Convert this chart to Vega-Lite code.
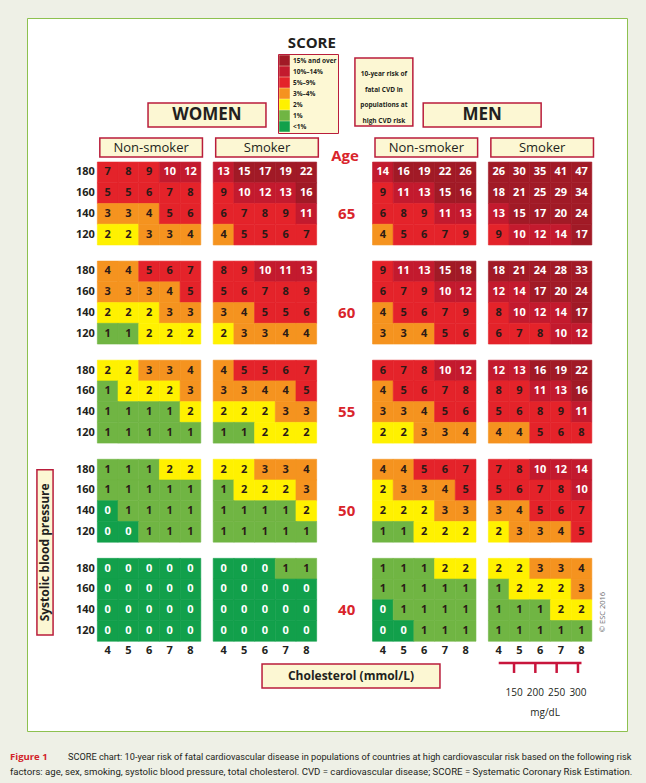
{
"$schema": "https://vega.github.io/schema/vega-lite/v6.json",
"width": 600, "height": 713,
"autosize": {"type": "none"},
"padding": {"left": 27, "top": 18, "right": 19, "bottom": 52},
"background": "#eef0e6",
"config": {"view": {"fill": "#ffffff", "stroke": "#8dc14f", "strokeWidth": 1}, "text": {"font": "Open Sans"}, "axis": {"disable": true}},
"data": {"values": [
{"sex":"Women","smoker":"Non-smoker","age":65,"sbp":180,"chol":4,"risk":7},{"sex":"Women","smoker":"Non-smoker","age":65,"sbp":180,"chol":5,"risk":8},{"sex":"Women","smoker":"Non-smoker","age":65,"sbp":180,"chol":6,"risk":9},{"sex":"Women","smoker":"Non-smoker","age":65,"sbp":180,"chol":7,"risk":10},{"sex":"Women","smoker":"Non-smoker","age":65,"sbp":180,"chol":8,"risk":12},
{"sex":"Women","smoker":"Non-smoker","age":65,"sbp":160,"chol":4,"risk":5},{"sex":"Women","smoker":"Non-smoker","age":65,"sbp":160,"chol":5,"risk":5},{"sex":"Women","smoker":"Non-smoker","age":65,"sbp":160,"chol":6,"risk":6},{"sex":"Women","smoker":"Non-smoker","age":65,"sbp":160,"chol":7,"risk":7},{"sex":"Women","smoker":"Non-smoker","age":65,"sbp":160,"chol":8,"risk":8},
{"sex":"Women","smoker":"Non-smoker","age":65,"sbp":140,"chol":4,"risk":3},{"sex":"Women","smoker":"Non-smoker","age":65,"sbp":140,"chol":5,"risk":3},{"sex":"Women","smoker":"Non-smoker","age":65,"sbp":140,"chol":6,"risk":4},{"sex":"Women","smoker":"Non-smoker","age":65,"sbp":140,"chol":7,"risk":5},{"sex":"Women","smoker":"Non-smoker","age":65,"sbp":140,"chol":8,"risk":6},
{"sex":"Women","smoker":"Non-smoker","age":65,"sbp":120,"chol":4,"risk":2},{"sex":"Women","smoker":"Non-smoker","age":65,"sbp":120,"chol":5,"risk":2},{"sex":"Women","smoker":"Non-smoker","age":65,"sbp":120,"chol":6,"risk":3},{"sex":"Women","smoker":"Non-smoker","age":65,"sbp":120,"chol":7,"risk":3},{"sex":"Women","smoker":"Non-smoker","age":65,"sbp":120,"chol":8,"risk":4},
{"sex":"Women","smoker":"Non-smoker","age":60,"sbp":180,"chol":4,"risk":4},{"sex":"Women","smoker":"Non-smoker","age":60,"sbp":180,"chol":5,"risk":4},{"sex":"Women","smoker":"Non-smoker","age":60,"sbp":180,"chol":6,"risk":5},{"sex":"Women","smoker":"Non-smoker","age":60,"sbp":180,"chol":7,"risk":6},{"sex":"Women","smoker":"Non-smoker","age":60,"sbp":180,"chol":8,"risk":7},
{"sex":"Women","smoker":"Non-smoker","age":60,"sbp":160,"chol":4,"risk":3},{"sex":"Women","smoker":"Non-smoker","age":60,"sbp":160,"chol":5,"risk":3},{"sex":"Women","smoker":"Non-smoker","age":60,"sbp":160,"chol":6,"risk":3},{"sex":"Women","smoker":"Non-smoker","age":60,"sbp":160,"chol":7,"risk":4},{"sex":"Women","smoker":"Non-smoker","age":60,"sbp":160,"chol":8,"risk":5},
{"sex":"Women","smoker":"Non-smoker","age":60,"sbp":140,"chol":4,"risk":2},{"sex":"Women","smoker":"Non-smoker","age":60,"sbp":140,"chol":5,"risk":2},{"sex":"Women","smoker":"Non-smoker","age":60,"sbp":140,"chol":6,"risk":2},{"sex":"Women","smoker":"Non-smoker","age":60,"sbp":140,"chol":7,"risk":3},{"sex":"Women","smoker":"Non-smoker","age":60,"sbp":140,"chol":8,"risk":3},
{"sex":"Women","smoker":"Non-smoker","age":60,"sbp":120,"chol":4,"risk":1},{"sex":"Women","smoker":"Non-smoker","age":60,"sbp":120,"chol":5,"risk":1},{"sex":"Women","smoker":"Non-smoker","age":60,"sbp":120,"chol":6,"risk":2},{"sex":"Women","smoker":"Non-smoker","age":60,"sbp":120,"chol":7,"risk":2},{"sex":"Women","smoker":"Non-smoker","age":60,"sbp":120,"chol":8,"risk":2},
{"sex":"Women","smoker":"Non-smoker","age":55,"sbp":180,"chol":4,"risk":2},{"sex":"Women","smoker":"Non-smoker","age":55,"sbp":180,"chol":5,"risk":2},{"sex":"Women","smoker":"Non-smoker","age":55,"sbp":180,"chol":6,"risk":3},{"sex":"Women","smoker":"Non-smoker","age":55,"sbp":180,"chol":7,"risk":3},{"sex":"Women","smoker":"Non-smoker","age":55,"sbp":180,"chol":8,"risk":4},
{"sex":"Women","smoker":"Non-smoker","age":55,"sbp":160,"chol":4,"risk":1},{"sex":"Women","smoker":"Non-smoker","age":55,"sbp":160,"chol":5,"risk":2},{"sex":"Women","smoker":"Non-smoker","age":55,"sbp":160,"chol":6,"risk":2},{"sex":"Women","smoker":"Non-smoker","age":55,"sbp":160,"chol":7,"risk":2},{"sex":"Women","smoker":"Non-smoker","age":55,"sbp":160,"chol":8,"risk":3},
{"sex":"Women","smoker":"Non-smoker","age":55,"sbp":140,"chol":4,"risk":1},{"sex":"Women","smoker":"Non-smoker","age":55,"sbp":140,"chol":5,"risk":1},{"sex":"Women","smoker":"Non-smoker","age":55,"sbp":140,"chol":6,"risk":1},{"sex":"Women","smoker":"Non-smoker","age":55,"sbp":140,"chol":7,"risk":1},{"sex":"Women","smoker":"Non-smoker","age":55,"sbp":140,"chol":8,"risk":2},
{"sex":"Women","smoker":"Non-smoker","age":55,"sbp":120,"chol":4,"risk":1},{"sex":"Women","smoker":"Non-smoker","age":55,"sbp":120,"chol":5,"risk":1},{"sex":"Women","smoker":"Non-smoker","age":55,"sbp":120,"chol":6,"risk":1},{"sex":"Women","smoker":"Non-smoker","age":55,"sbp":120,"chol":7,"risk":1},{"sex":"Women","smoker":"Non-smoker","age":55,"sbp":120,"chol":8,"risk":1},
{"sex":"Women","smoker":"Non-smoker","age":50,"sbp":180,"chol":4,"risk":1},{"sex":"Women","smoker":"Non-smoker","age":50,"sbp":180,"chol":5,"risk":1},{"sex":"Women","smoker":"Non-smoker","age":50,"sbp":180,"chol":6,"risk":1},{"sex":"Women","smoker":"Non-smoker","age":50,"sbp":180,"chol":7,"risk":2},{"sex":"Women","smoker":"Non-smoker","age":50,"sbp":180,"chol":8,"risk":2},
{"sex":"Women","smoker":"Non-smoker","age":50,"sbp":160,"chol":4,"risk":1},{"sex":"Women","smoker":"Non-smoker","age":50,"sbp":160,"chol":5,"risk":1},{"sex":"Women","smoker":"Non-smoker","age":50,"sbp":160,"chol":6,"risk":1},{"sex":"Women","smoker":"Non-smoker","age":50,"sbp":160,"chol":7,"risk":1},{"sex":"Women","smoker":"Non-smoker","age":50,"sbp":160,"chol":8,"risk":1},
{"sex":"Women","smoker":"Non-smoker","age":50,"sbp":140,"chol":4,"risk":0},{"sex":"Women","smoker":"Non-smoker","age":50,"sbp":140,"chol":5,"risk":1},{"sex":"Women","smoker":"Non-smoker","age":50,"sbp":140,"chol":6,"risk":1},{"sex":"Women","smoker":"Non-smoker","age":50,"sbp":140,"chol":7,"risk":1},{"sex":"Women","smoker":"Non-smoker","age":50,"sbp":140,"chol":8,"risk":1},
{"sex":"Women","smoker":"Non-smoker","age":50,"sbp":120,"chol":4,"risk":0},{"sex":"Women","smoker":"Non-smoker","age":50,"sbp":120,"chol":5,"risk":0},{"sex":"Women","smoker":"Non-smoker","age":50,"sbp":120,"chol":6,"risk":1},{"sex":"Women","smoker":"Non-smoker","age":50,"sbp":120,"chol":7,"risk":1},{"sex":"Women","smoker":"Non-smoker","age":50,"sbp":120,"chol":8,"risk":1},
{"sex":"Women","smoker":"Non-smoker","age":40,"sbp":180,"chol":4,"risk":0},{"sex":"Women","smoker":"Non-smoker","age":40,"sbp":180,"chol":5,"risk":0},{"sex":"Women","smoker":"Non-smoker","age":40,"sbp":180,"chol":6,"risk":0},{"sex":"Women","smoker":"Non-smoker","age":40,"sbp":180,"chol":7,"risk":0},{"sex":"Women","smoker":"Non-smoker","age":40,"sbp":180,"chol":8,"risk":0},
{"sex":"Women","smoker":"Non-smoker","age":40,"sbp":160,"chol":4,"risk":0},{"sex":"Women","smoker":"Non-smoker","age":40,"sbp":160,"chol":5,"risk":0},{"sex":"Women","smoker":"Non-smoker","age":40,"sbp":160,"chol":6,"risk":0},{"sex":"Women","smoker":"Non-smoker","age":40,"sbp":160,"chol":7,"risk":0},{"sex":"Women","smoker":"Non-smoker","age":40,"sbp":160,"chol":8,"risk":0},
{"sex":"Women","smoker":"Non-smoker","age":40,"sbp":140,"chol":4,"risk":0},{"sex":"Women","smoker":"Non-smoker","age":40,"sbp":140,"chol":5,"risk":0},{"sex":"Women","smoker":"Non-smoker","age":40,"sbp":140,"chol":6,"risk":0},{"sex":"Women","smoker":"Non-smoker","age":40,"sbp":140,"chol":7,"risk":0},{"sex":"Women","smoker":"Non-smoker","age":40,"sbp":140,"chol":8,"risk":0},
{"sex":"Women","smoker":"Non-smoker","age":40,"sbp":120,"chol":4,"risk":0},{"sex":"Women","smoker":"Non-smoker","age":40,"sbp":120,"chol":5,"risk":0},{"sex":"Women","smoker":"Non-smoker","age":40,"sbp":120,"chol":6,"risk":0},{"sex":"Women","smoker":"Non-smoker","age":40,"sbp":120,"chol":7,"risk":0},{"sex":"Women","smoker":"Non-smoker","age":40,"sbp":120,"chol":8,"risk":0},
{"sex":"Women","smoker":"Smoker","age":65,"sbp":180,"chol":4,"risk":13},{"sex":"Women","smoker":"Smoker","age":65,"sbp":180,"chol":5,"risk":15},{"sex":"Women","smoker":"Smoker","age":65,"sbp":180,"chol":6,"risk":17},{"sex":"Women","smoker":"Smoker","age":65,"sbp":180,"chol":7,"risk":19},{"sex":"Women","smoker":"Smoker","age":65,"sbp":180,"chol":8,"risk":22},
{"sex":"Women","smoker":"Smoker","age":65,"sbp":160,"chol":4,"risk":9},{"sex":"Women","smoker":"Smoker","age":65,"sbp":160,"chol":5,"risk":10},{"sex":"Women","smoker":"Smoker","age":65,"sbp":160,"chol":6,"risk":12},{"sex":"Women","smoker":"Smoker","age":65,"sbp":160,"chol":7,"risk":13},{"sex":"Women","smoker":"Smoker","age":65,"sbp":160,"chol":8,"risk":16},
{"sex":"Women","smoker":"Smoker","age":65,"sbp":140,"chol":4,"risk":6},{"sex":"Women","smoker":"Smoker","age":65,"sbp":140,"chol":5,"risk":7},{"sex":"Women","smoker":"Smoker","age":65,"sbp":140,"chol":6,"risk":8},{"sex":"Women","smoker":"Smoker","age":65,"sbp":140,"chol":7,"risk":9},{"sex":"Women","smoker":"Smoker","age":65,"sbp":140,"chol":8,"risk":11},
{"sex":"Women","smoker":"Smoker","age":65,"sbp":120,"chol":4,"risk":4},{"sex":"Women","smoker":"Smoker","age":65,"sbp":120,"chol":5,"risk":5},{"sex":"Women","smoker":"Smoker","age":65,"sbp":120,"chol":6,"risk":5},{"sex":"Women","smoker":"Smoker","age":65,"sbp":120,"chol":7,"risk":6},{"sex":"Women","smoker":"Smoker","age":65,"sbp":120,"chol":8,"risk":7},
{"sex":"Women","smoker":"Smoker","age":60,"sbp":180,"chol":4,"risk":8},{"sex":"Women","smoker":"Smoker","age":60,"sbp":180,"chol":5,"risk":9},{"sex":"Women","smoker":"Smoker","age":60,"sbp":180,"chol":6,"risk":10},{"sex":"Women","smoker":"Smoker","age":60,"sbp":180,"chol":7,"risk":11},{"sex":"Women","smoker":"Smoker","age":60,"sbp":180,"chol":8,"risk":13},
{"sex":"Women","smoker":"Smoker","age":60,"sbp":160,"chol":4,"risk":5},{"sex":"Women","smoker":"Smoker","age":60,"sbp":160,"chol":5,"risk":6},{"sex":"Women","smoker":"Smoker","age":60,"sbp":160,"chol":6,"risk":7},{"sex":"Women","smoker":"Smoker","age":60,"sbp":160,"chol":7,"risk":8},{"sex":"Women","smoker":"Smoker","age":60,"sbp":160,"chol":8,"risk":9},
{"sex":"Women","smoker":"Smoker","age":60,"sbp":140,"chol":4,"risk":3},{"sex":"Women","smoker":"Smoker","age":60,"sbp":140,"chol":5,"risk":4},{"sex":"Women","smoker":"Smoker","age":60,"sbp":140,"chol":6,"risk":5},{"sex":"Women","smoker":"Smoker","age":60,"sbp":140,"chol":7,"risk":5},{"sex":"Women","smoker":"Smoker","age":60,"sbp":140,"chol":8,"risk":6},
{"sex":"Women","smoker":"Smoker","age":60,"sbp":120,"chol":4,"risk":2},{"sex":"Women","smoker":"Smoker","age":60,"sbp":120,"chol":5,"risk":3},{"sex":"Women","smoker":"Smoker","age":60,"sbp":120,"chol":6,"risk":3},{"sex":"Women","smoker":"Smoker","age":60,"sbp":120,"chol":7,"risk":4},{"sex":"Women","smoker":"Smoker","age":60,"sbp":120,"chol":8,"risk":4},
{"sex":"Women","smoker":"Smoker","age":55,"sbp":180,"chol":4,"risk":4},{"sex":"Women","smoker":"Smoker","age":55,"sbp":180,"chol":5,"risk":5},{"sex":"Women","smoker":"Smoker","age":55,"sbp":180,"chol":6,"risk":5},{"sex":"Women","smoker":"Smoker","age":55,"sbp":180,"chol":7,"risk":6},{"sex":"Women","smoker":"Smoker","age":55,"sbp":180,"chol":8,"risk":7},
{"sex":"Women","smoker":"Smoker","age":55,"sbp":160,"chol":4,"risk":3},{"sex":"Women","smoker":"Smoker","age":55,"sbp":160,"chol":5,"risk":3},{"sex":"Women","smoker":"Smoker","age":55,"sbp":160,"chol":6,"risk":4},{"sex":"Women","smoker":"Smoker","age":55,"sbp":160,"chol":7,"risk":4},{"sex":"Women","smoker":"Smoker","age":55,"sbp":160,"chol":8,"risk":5},
{"sex":"Women","smoker":"Smoker","age":55,"sbp":140,"chol":4,"risk":2},{"sex":"Women","smoker":"Smoker","age":55,"sbp":140,"chol":5,"risk":2},{"sex":"Women","smoker":"Smoker","age":55,"sbp":140,"chol":6,"risk":2},{"sex":"Women","smoker":"Smoker","age":55,"sbp":140,"chol":7,"risk":3},{"sex":"Women","smoker":"Smoker","age":55,"sbp":140,"chol":8,"risk":3},
{"sex":"Women","smoker":"Smoker","age":55,"sbp":120,"chol":4,"risk":1},{"sex":"Women","smoker":"Smoker","age":55,"sbp":120,"chol":5,"risk":1},{"sex":"Women","smoker":"Smoker","age":55,"sbp":120,"chol":6,"risk":2},{"sex":"Women","smoker":"Smoker","age":55,"sbp":120,"chol":7,"risk":2},{"sex":"Women","smoker":"Smoker","age":55,"sbp":120,"chol":8,"risk":2},
{"sex":"Women","smoker":"Smoker","age":50,"sbp":180,"chol":4,"risk":2},{"sex":"Women","smoker":"Smoker","age":50,"sbp":180,"chol":5,"risk":2},{"sex":"Women","smoker":"Smoker","age":50,"sbp":180,"chol":6,"risk":3},{"sex":"Women","smoker":"Smoker","age":50,"sbp":180,"chol":7,"risk":3},{"sex":"Women","smoker":"Smoker","age":50,"sbp":180,"chol":8,"risk":4},
{"sex":"Women","smoker":"Smoker","age":50,"sbp":160,"chol":4,"risk":1},{"sex":"Women","smoker":"Smoker","age":50,"sbp":160,"chol":5,"risk":2},{"sex":"Women","smoker":"Smoker","age":50,"sbp":160,"chol":6,"risk":2},{"sex":"Women","smoker":"Smoker","age":50,"sbp":160,"chol":7,"risk":2},{"sex":"Women","smoker":"Smoker","age":50,"sbp":160,"chol":8,"risk":3},
{"sex":"Women","smoker":"Smoker","age":50,"sbp":140,"chol":4,"risk":1},{"sex":"Women","smoker":"Smoker","age":50,"sbp":140,"chol":5,"risk":1},{"sex":"Women","smoker":"Smoker","age":50,"sbp":140,"chol":6,"risk":1},{"sex":"Women","smoker":"Smoker","age":50,"sbp":140,"chol":7,"risk":1},{"sex":"Women","smoker":"Smoker","age":50,"sbp":140,"chol":8,"risk":2},
{"sex":"Women","smoker":"Smoker","age":50,"sbp":120,"chol":4,"risk":1},{"sex":"Women","smoker":"Smoker","age":50,"sbp":120,"chol":5,"risk":1},{"sex":"Women","smoker":"Smoker","age":50,"sbp":120,"chol":6,"risk":1},{"sex":"Women","smoker":"Smoker","age":50,"sbp":120,"chol":7,"risk":1},{"sex":"Women","smoker":"Smoker","age":50,"sbp":120,"chol":8,"risk":1},
{"sex":"Women","smoker":"Smoker","age":40,"sbp":180,"chol":4,"risk":0},{"sex":"Women","smoker":"Smoker","age":40,"sbp":180,"chol":5,"risk":0},{"sex":"Women","smoker":"Smoker","age":40,"sbp":180,"chol":6,"risk":0},{"sex":"Women","smoker":"Smoker","age":40,"sbp":180,"chol":7,"risk":1},{"sex":"Women","smoker":"Smoker","age":40,"sbp":180,"chol":8,"risk":1},
{"sex":"Women","smoker":"Smoker","age":40,"sbp":160,"chol":4,"risk":0},{"sex":"Women","smoker":"Smoker","age":40,"sbp":160,"chol":5,"risk":0},{"sex":"Women","smoker":"Smoker","age":40,"sbp":160,"chol":6,"risk":0},{"sex":"Women","smoker":"Smoker","age":40,"sbp":160,"chol":7,"risk":0},{"sex":"Women","smoker":"Smoker","age":40,"sbp":160,"chol":8,"risk":0},
{"sex":"Women","smoker":"Smoker","age":40,"sbp":140,"chol":4,"risk":0},{"sex":"Women","smoker":"Smoker","age":40,"sbp":140,"chol":5,"risk":0},{"sex":"Women","smoker":"Smoker","age":40,"sbp":140,"chol":6,"risk":0},{"sex":"Women","smoker":"Smoker","age":40,"sbp":140,"chol":7,"risk":0},{"sex":"Women","smoker":"Smoker","age":40,"sbp":140,"chol":8,"risk":0},
{"sex":"Women","smoker":"Smoker","age":40,"sbp":120,"chol":4,"risk":0},{"sex":"Women","smoker":"Smoker","age":40,"sbp":120,"chol":5,"risk":0},{"sex":"Women","smoker":"Smoker","age":40,"sbp":120,"chol":6,"risk":0},{"sex":"Women","smoker":"Smoker","age":40,"sbp":120,"chol":7,"risk":0},{"sex":"Women","smoker":"Smoker","age":40,"sbp":120,"chol":8,"risk":0},
{"sex":"Men","smoker":"Non-smoker","age":65,"sbp":180,"chol":4,"risk":14},{"sex":"Men","smoker":"Non-smoker","age":65,"sbp":180,"chol":5,"risk":16},{"sex":"Men","smoker":"Non-smoker","age":65,"sbp":180,"chol":6,"risk":19},{"sex":"Men","smoker":"Non-smoker","age":65,"sbp":180,"chol":7,"risk":22},{"sex":"Men","smoker":"Non-smoker","age":65,"sbp":180,"chol":8,"risk":26},
{"sex":"Men","smoker":"Non-smoker","age":65,"sbp":160,"chol":4,"risk":9},{"sex":"Men","smoker":"Non-smoker","age":65,"sbp":160,"chol":5,"risk":11},{"sex":"Men","smoker":"Non-smoker","age":65,"sbp":160,"chol":6,"risk":13},{"sex":"Men","smoker":"Non-smoker","age":65,"sbp":160,"chol":7,"risk":15},{"sex":"Men","smoker":"Non-smoker","age":65,"sbp":160,"chol":8,"risk":16},
{"sex":"Men","smoker":"Non-smoker","age":65,"sbp":140,"chol":4,"risk":6},{"sex":"Men","smoker":"Non-smoker","age":65,"sbp":140,"chol":5,"risk":8},{"sex":"Men","smoker":"Non-smoker","age":65,"sbp":140,"chol":6,"risk":9},{"sex":"Men","smoker":"Non-smoker","age":65,"sbp":140,"chol":7,"risk":11},{"sex":"Men","smoker":"Non-smoker","age":65,"sbp":140,"chol":8,"risk":13},
{"sex":"Men","smoker":"Non-smoker","age":65,"sbp":120,"chol":4,"risk":4},{"sex":"Men","smoker":"Non-smoker","age":65,"sbp":120,"chol":5,"risk":5},{"sex":"Men","smoker":"Non-smoker","age":65,"sbp":120,"chol":6,"risk":6},{"sex":"Men","smoker":"Non-smoker","age":65,"sbp":120,"chol":7,"risk":7},{"sex":"Men","smoker":"Non-smoker","age":65,"sbp":120,"chol":8,"risk":9},
{"sex":"Men","smoker":"Non-smoker","age":60,"sbp":180,"chol":4,"risk":9},{"sex":"Men","smoker":"Non-smoker","age":60,"sbp":180,"chol":5,"risk":11},{"sex":"Men","smoker":"Non-smoker","age":60,"sbp":180,"chol":6,"risk":13},{"sex":"Men","smoker":"Non-smoker","age":60,"sbp":180,"chol":7,"risk":15},{"sex":"Men","smoker":"Non-smoker","age":60,"sbp":180,"chol":8,"risk":18},
{"sex":"Men","smoker":"Non-smoker","age":60,"sbp":160,"chol":4,"risk":6},{"sex":"Men","smoker":"Non-smoker","age":60,"sbp":160,"chol":5,"risk":7},{"sex":"Men","smoker":"Non-smoker","age":60,"sbp":160,"chol":6,"risk":9},{"sex":"Men","smoker":"Non-smoker","age":60,"sbp":160,"chol":7,"risk":10},{"sex":"Men","smoker":"Non-smoker","age":60,"sbp":160,"chol":8,"risk":12},
{"sex":"Men","smoker":"Non-smoker","age":60,"sbp":140,"chol":4,"risk":4},{"sex":"Men","smoker":"Non-smoker","age":60,"sbp":140,"chol":5,"risk":5},{"sex":"Men","smoker":"Non-smoker","age":60,"sbp":140,"chol":6,"risk":6},{"sex":"Men","smoker":"Non-smoker","age":60,"sbp":140,"chol":7,"risk":7},{"sex":"Men","smoker":"Non-smoker","age":60,"sbp":140,"chol":8,"risk":9},
{"sex":"Men","smoker":"Non-smoker","age":60,"sbp":120,"chol":4,"risk":3},{"sex":"Men","smoker":"Non-smoker","age":60,"sbp":120,"chol":5,"risk":3},{"sex":"Men","smoker":"Non-smoker","age":60,"sbp":120,"chol":6,"risk":4},{"sex":"Men","smoker":"Non-smoker","age":60,"sbp":120,"chol":7,"risk":5},{"sex":"Men","smoker":"Non-smoker","age":60,"sbp":120,"chol":8,"risk":6},
{"sex":"Men","smoker":"Non-smoker","age":55,"sbp":180,"chol":4,"risk":6},{"sex":"Men","smoker":"Non-smoker","age":55,"sbp":180,"chol":5,"risk":7},{"sex":"Men","smoker":"Non-smoker","age":55,"sbp":180,"chol":6,"risk":8},{"sex":"Men","smoker":"Non-smoker","age":55,"sbp":180,"chol":7,"risk":10},{"sex":"Men","smoker":"Non-smoker","age":55,"sbp":180,"chol":8,"risk":12},
{"sex":"Men","smoker":"Non-smoker","age":55,"sbp":160,"chol":4,"risk":4},{"sex":"Men","smoker":"Non-smoker","age":55,"sbp":160,"chol":5,"risk":5},{"sex":"Men","smoker":"Non-smoker","age":55,"sbp":160,"chol":6,"risk":6},{"sex":"Men","smoker":"Non-smoker","age":55,"sbp":160,"chol":7,"risk":7},{"sex":"Men","smoker":"Non-smoker","age":55,"sbp":160,"chol":8,"risk":8},
{"sex":"Men","smoker":"Non-smoker","age":55,"sbp":140,"chol":4,"risk":3},{"sex":"Men","smoker":"Non-smoker","age":55,"sbp":140,"chol":5,"risk":3},{"sex":"Men","smoker":"Non-smoker","age":55,"sbp":140,"chol":6,"risk":4},{"sex":"Men","smoker":"Non-smoker","age":55,"sbp":140,"chol":7,"risk":5},{"sex":"Men","smoker":"Non-smoker","age":55,"sbp":140,"chol":8,"risk":6},
{"sex":"Men","smoker":"Non-smoker","age":55,"sbp":120,"chol":4,"risk":2},{"sex":"Men","smoker":"Non-smoker","age":55,"sbp":120,"chol":5,"risk":2},{"sex":"Men","smoker":"Non-smoker","age":55,"sbp":120,"chol":6,"risk":3},{"sex":"Men","smoker":"Non-smoker","age":55,"sbp":120,"chol":7,"risk":3},{"sex":"Men","smoker":"Non-smoker","age":55,"sbp":120,"chol":8,"risk":4},
{"sex":"Men","smoker":"Non-smoker","age":50,"sbp":180,"chol":4,"risk":4},{"sex":"Men","smoker":"Non-smoker","age":50,"sbp":180,"chol":5,"risk":4},{"sex":"Men","smoker":"Non-smoker","age":50,"sbp":180,"chol":6,"risk":5},{"sex":"Men","smoker":"Non-smoker","age":50,"sbp":180,"chol":7,"risk":6},{"sex":"Men","smoker":"Non-smoker","age":50,"sbp":180,"chol":8,"risk":7},
{"sex":"Men","smoker":"Non-smoker","age":50,"sbp":160,"chol":4,"risk":2},{"sex":"Men","smoker":"Non-smoker","age":50,"sbp":160,"chol":5,"risk":3},{"sex":"Men","smoker":"Non-smoker","age":50,"sbp":160,"chol":6,"risk":3},{"sex":"Men","smoker":"Non-smoker","age":50,"sbp":160,"chol":7,"risk":4},{"sex":"Men","smoker":"Non-smoker","age":50,"sbp":160,"chol":8,"risk":5},
{"sex":"Men","smoker":"Non-smoker","age":50,"sbp":140,"chol":4,"risk":2},{"sex":"Men","smoker":"Non-smoker","age":50,"sbp":140,"chol":5,"risk":2},{"sex":"Men","smoker":"Non-smoker","age":50,"sbp":140,"chol":6,"risk":2},{"sex":"Men","smoker":"Non-smoker","age":50,"sbp":140,"chol":7,"risk":3},{"sex":"Men","smoker":"Non-smoker","age":50,"sbp":140,"chol":8,"risk":3},
{"sex":"Men","smoker":"Non-smoker","age":50,"sbp":120,"chol":4,"risk":1},{"sex":"Men","smoker":"Non-smoker","age":50,"sbp":120,"chol":5,"risk":1},{"sex":"Men","smoker":"Non-smoker","age":50,"sbp":120,"chol":6,"risk":2},{"sex":"Men","smoker":"Non-smoker","age":50,"sbp":120,"chol":7,"risk":2},{"sex":"Men","smoker":"Non-smoker","age":50,"sbp":120,"chol":8,"risk":2},
{"sex":"Men","smoker":"Non-smoker","age":40,"sbp":180,"chol":4,"risk":1},{"sex":"Men","smoker":"Non-smoker","age":40,"sbp":180,"chol":5,"risk":1},{"sex":"Men","smoker":"Non-smoker","age":40,"sbp":180,"chol":6,"risk":1},{"sex":"Men","smoker":"Non-smoker","age":40,"sbp":180,"chol":7,"risk":2},{"sex":"Men","smoker":"Non-smoker","age":40,"sbp":180,"chol":8,"risk":2},
{"sex":"Men","smoker":"Non-smoker","age":40,"sbp":160,"chol":4,"risk":1},{"sex":"Men","smoker":"Non-smoker","age":40,"sbp":160,"chol":5,"risk":1},{"sex":"Men","smoker":"Non-smoker","age":40,"sbp":160,"chol":6,"risk":1},{"sex":"Men","smoker":"Non-smoker","age":40,"sbp":160,"chol":7,"risk":1},{"sex":"Men","smoker":"Non-smoker","age":40,"sbp":160,"chol":8,"risk":1},
{"sex":"Men","smoker":"Non-smoker","age":40,"sbp":140,"chol":4,"risk":0},{"sex":"Men","smoker":"Non-smoker","age":40,"sbp":140,"chol":5,"risk":1},{"sex":"Men","smoker":"Non-smoker","age":40,"sbp":140,"chol":6,"risk":1},{"sex":"Men","smoker":"Non-smoker","age":40,"sbp":140,"chol":7,"risk":1},{"sex":"Men","smoker":"Non-smoker","age":40,"sbp":140,"chol":8,"risk":1},
{"sex":"Men","smoker":"Non-smoker","age":40,"sbp":120,"chol":4,"risk":0},{"sex":"Men","smoker":"Non-smoker","age":40,"sbp":120,"chol":5,"risk":0},{"sex":"Men","smoker":"Non-smoker","age":40,"sbp":120,"chol":6,"risk":1},{"sex":"Men","smoker":"Non-smoker","age":40,"sbp":120,"chol":7,"risk":1},{"sex":"Men","smoker":"Non-smoker","age":40,"sbp":120,"chol":8,"risk":1},
{"sex":"Men","smoker":"Smoker","age":65,"sbp":180,"chol":4,"risk":26},{"sex":"Men","smoker":"Smoker","age":65,"sbp":180,"chol":5,"risk":30},{"sex":"Men","smoker":"Smoker","age":65,"sbp":180,"chol":6,"risk":35},{"sex":"Men","smoker":"Smoker","age":65,"sbp":180,"chol":7,"risk":41},{"sex":"Men","smoker":"Smoker","age":65,"sbp":180,"chol":8,"risk":47},
{"sex":"Men","smoker":"Smoker","age":65,"sbp":160,"chol":4,"risk":18},{"sex":"Men","smoker":"Smoker","age":65,"sbp":160,"chol":5,"risk":21},{"sex":"Men","smoker":"Smoker","age":65,"sbp":160,"chol":6,"risk":25},{"sex":"Men","smoker":"Smoker","age":65,"sbp":160,"chol":7,"risk":29},{"sex":"Men","smoker":"Smoker","age":65,"sbp":160,"chol":8,"risk":34},
{"sex":"Men","smoker":"Smoker","age":65,"sbp":140,"chol":4,"risk":13},{"sex":"Men","smoker":"Smoker","age":65,"sbp":140,"chol":5,"risk":15},{"sex":"Men","smoker":"Smoker","age":65,"sbp":140,"chol":6,"risk":17},{"sex":"Men","smoker":"Smoker","age":65,"sbp":140,"chol":7,"risk":20},{"sex":"Men","smoker":"Smoker","age":65,"sbp":140,"chol":8,"risk":24},
{"sex":"Men","smoker":"Smoker","age":65,"sbp":120,"chol":4,"risk":9},{"sex":"Men","smoker":"Smoker","age":65,"sbp":120,"chol":5,"risk":10},{"sex":"Men","smoker":"Smoker","age":65,"sbp":120,"chol":6,"risk":12},{"sex":"Men","smoker":"Smoker","age":65,"sbp":120,"chol":7,"risk":14},{"sex":"Men","smoker":"Smoker","age":65,"sbp":120,"chol":8,"risk":17},
{"sex":"Men","smoker":"Smoker","age":60,"sbp":180,"chol":4,"risk":18},{"sex":"Men","smoker":"Smoker","age":60,"sbp":180,"chol":5,"risk":21},{"sex":"Men","smoker":"Smoker","age":60,"sbp":180,"chol":6,"risk":24},{"sex":"Men","smoker":"Smoker","age":60,"sbp":180,"chol":7,"risk":28},{"sex":"Men","smoker":"Smoker","age":60,"sbp":180,"chol":8,"risk":33},
{"sex":"Men","smoker":"Smoker","age":60,"sbp":160,"chol":4,"risk":12},{"sex":"Men","smoker":"Smoker","age":60,"sbp":160,"chol":5,"risk":14},{"sex":"Men","smoker":"Smoker","age":60,"sbp":160,"chol":6,"risk":17},{"sex":"Men","smoker":"Smoker","age":60,"sbp":160,"chol":7,"risk":20},{"sex":"Men","smoker":"Smoker","age":60,"sbp":160,"chol":8,"risk":24},
{"sex":"Men","smoker":"Smoker","age":60,"sbp":140,"chol":4,"risk":8},{"sex":"Men","smoker":"Smoker","age":60,"sbp":140,"chol":5,"risk":10},{"sex":"Men","smoker":"Smoker","age":60,"sbp":140,"chol":6,"risk":12},{"sex":"Men","smoker":"Smoker","age":60,"sbp":140,"chol":7,"risk":14},{"sex":"Men","smoker":"Smoker","age":60,"sbp":140,"chol":8,"risk":17},
{"sex":"Men","smoker":"Smoker","age":60,"sbp":120,"chol":4,"risk":6},{"sex":"Men","smoker":"Smoker","age":60,"sbp":120,"chol":5,"risk":7},{"sex":"Men","smoker":"Smoker","age":60,"sbp":120,"chol":6,"risk":8},{"sex":"Men","smoker":"Smoker","age":60,"sbp":120,"chol":7,"risk":10},{"sex":"Men","smoker":"Smoker","age":60,"sbp":120,"chol":8,"risk":12},
{"sex":"Men","smoker":"Smoker","age":55,"sbp":180,"chol":4,"risk":12},{"sex":"Men","smoker":"Smoker","age":55,"sbp":180,"chol":5,"risk":13},{"sex":"Men","smoker":"Smoker","age":55,"sbp":180,"chol":6,"risk":16},{"sex":"Men","smoker":"Smoker","age":55,"sbp":180,"chol":7,"risk":19},{"sex":"Men","smoker":"Smoker","age":55,"sbp":180,"chol":8,"risk":22},
{"sex":"Men","smoker":"Smoker","age":55,"sbp":160,"chol":4,"risk":8},{"sex":"Men","smoker":"Smoker","age":55,"sbp":160,"chol":5,"risk":9},{"sex":"Men","smoker":"Smoker","age":55,"sbp":160,"chol":6,"risk":11},{"sex":"Men","smoker":"Smoker","age":55,"sbp":160,"chol":7,"risk":13},{"sex":"Men","smoker":"Smoker","age":55,"sbp":160,"chol":8,"risk":16},
{"sex":"Men","smoker":"Smoker","age":55,"sbp":140,"chol":4,"risk":5},{"sex":"Men","smoker":"Smoker","age":55,"sbp":140,"chol":5,"risk":6},{"sex":"Men","smoker":"Smoker","age":55,"sbp":140,"chol":6,"risk":8},{"sex":"Men","smoker":"Smoker","age":55,"sbp":140,"chol":7,"risk":9},{"sex":"Men","smoker":"Smoker","age":55,"sbp":140,"chol":8,"risk":11},
{"sex":"Men","smoker":"Smoker","age":55,"sbp":120,"chol":4,"risk":4},{"sex":"Men","smoker":"Smoker","age":55,"sbp":120,"chol":5,"risk":4},{"sex":"Men","smoker":"Smoker","age":55,"sbp":120,"chol":6,"risk":5},{"sex":"Men","smoker":"Smoker","age":55,"sbp":120,"chol":7,"risk":6},{"sex":"Men","smoker":"Smoker","age":55,"sbp":120,"chol":8,"risk":8},
{"sex":"Men","smoker":"Smoker","age":50,"sbp":180,"chol":4,"risk":7},{"sex":"Men","smoker":"Smoker","age":50,"sbp":180,"chol":5,"risk":8},{"sex":"Men","smoker":"Smoker","age":50,"sbp":180,"chol":6,"risk":10},{"sex":"Men","smoker":"Smoker","age":50,"sbp":180,"chol":7,"risk":12},{"sex":"Men","smoker":"Smoker","age":50,"sbp":180,"chol":8,"risk":14},
{"sex":"Men","smoker":"Smoker","age":50,"sbp":160,"chol":4,"risk":5},{"sex":"Men","smoker":"Smoker","age":50,"sbp":160,"chol":5,"risk":6},{"sex":"Men","smoker":"Smoker","age":50,"sbp":160,"chol":6,"risk":7},{"sex":"Men","smoker":"Smoker","age":50,"sbp":160,"chol":7,"risk":8},{"sex":"Men","smoker":"Smoker","age":50,"sbp":160,"chol":8,"risk":10},
{"sex":"Men","smoker":"Smoker","age":50,"sbp":140,"chol":4,"risk":3},{"sex":"Men","smoker":"Smoker","age":50,"sbp":140,"chol":5,"risk":4},{"sex":"Men","smoker":"Smoker","age":50,"sbp":140,"chol":6,"risk":5},{"sex":"Men","smoker":"Smoker","age":50,"sbp":140,"chol":7,"risk":6},{"sex":"Men","smoker":"Smoker","age":50,"sbp":140,"chol":8,"risk":7},
{"sex":"Men","smoker":"Smoker","age":50,"sbp":120,"chol":4,"risk":2},{"sex":"Men","smoker":"Smoker","age":50,"sbp":120,"chol":5,"risk":3},{"sex":"Men","smoker":"Smoker","age":50,"sbp":120,"chol":6,"risk":3},{"sex":"Men","smoker":"Smoker","age":50,"sbp":120,"chol":7,"risk":4},{"sex":"Men","smoker":"Smoker","age":50,"sbp":120,"chol":8,"risk":5},
{"sex":"Men","smoker":"Smoker","age":40,"sbp":180,"chol":4,"risk":2},{"sex":"Men","smoker":"Smoker","age":40,"sbp":180,"chol":5,"risk":2},{"sex":"Men","smoker":"Smoker","age":40,"sbp":180,"chol":6,"risk":3},{"sex":"Men","smoker":"Smoker","age":40,"sbp":180,"chol":7,"risk":3},{"sex":"Men","smoker":"Smoker","age":40,"sbp":180,"chol":8,"risk":4},
{"sex":"Men","smoker":"Smoker","age":40,"sbp":160,"chol":4,"risk":1},{"sex":"Men","smoker":"Smoker","age":40,"sbp":160,"chol":5,"risk":2},{"sex":"Men","smoker":"Smoker","age":40,"sbp":160,"chol":6,"risk":2},{"sex":"Men","smoker":"Smoker","age":40,"sbp":160,"chol":7,"risk":2},{"sex":"Men","smoker":"Smoker","age":40,"sbp":160,"chol":8,"risk":3},
{"sex":"Men","smoker":"Smoker","age":40,"sbp":140,"chol":4,"risk":1},{"sex":"Men","smoker":"Smoker","age":40,"sbp":140,"chol":5,"risk":1},{"sex":"Men","smoker":"Smoker","age":40,"sbp":140,"chol":6,"risk":1},{"sex":"Men","smoker":"Smoker","age":40,"sbp":140,"chol":7,"risk":2},{"sex":"Men","smoker":"Smoker","age":40,"sbp":140,"chol":8,"risk":2},
{"sex":"Men","smoker":"Smoker","age":40,"sbp":120,"chol":4,"risk":1},{"sex":"Men","smoker":"Smoker","age":40,"sbp":120,"chol":5,"risk":1},{"sex":"Men","smoker":"Smoker","age":40,"sbp":120,"chol":6,"risk":1},{"sex":"Men","smoker":"Smoker","age":40,"sbp":120,"chol":7,"risk":1},{"sex":"Men","smoker":"Smoker","age":40,"sbp":120,"chol":8,"risk":1}
]},
"transform": [
{"calculate": "(datum.sex=='Women'?3.4:16.7)+(datum.smoker=='Smoker'?5.6:0)+datum.chol-4", "as": "gx"},
{"calculate": "6.95+(datum.age==40?4:(65-datum.age)/5)*4.78+(180-datum.sbp)/20", "as": "gy"},
{"calculate": "datum.gx+1", "as": "gx2"},
{"calculate": "datum.gy+1", "as": "gy2"},
{"calculate": "datum.gx+0.5", "as": "cx"},
{"calculate": "datum.gy+0.5", "as": "cy"},
{"calculate": "datum.risk>=15?'15% and over':datum.risk>=10?'10%–14%':datum.risk>=5?'5%–9%':datum.risk>=3?'3%–4%':datum.risk>=2?'2%':datum.risk>=1?'1%':'<1%'", "as": "band"}
],
"layer": [
{"mark": {"type": "rect", "strokeWidth": 0.6},
 "encoding": {
  "x": {"field": "gx", "type": "quantitative", "scale": {"domain": [0, 29], "nice": false, "zero": false}, "axis": null},
  "x2": {"field": "gx2"},
  "y": {"field": "gy", "type": "quantitative", "scale": {"domain": [0, 34.4], "nice": false, "zero": false, "reverse": true}, "axis": null},
  "y2": {"field": "gy2"},
  "color": {"field": "band", "type": "nominal",
   "scale": {"domain": ["15% and over", "10%–14%", "5%–9%", "3%–4%", "2%", "1%", "<1%"], "range": ["#a11a26", "#c31a2e", "#e4232a", "#f5931f", "#fff100", "#70b543", "#12a04b"]},
   "legend": {"title": null, "orient": "none", "legendX": 251, "legendY": 36, "symbolType": "square", "symbolSize": 112, "symbolStrokeWidth": 0, "symbolOpacity": 1, "rowPadding": 0, "padding": 1, "labelFontSize": 6.5, "labelFont": "Open Sans", "labelFontWeight": "bold", "labelColor": "#231f20", "labelOffset": 3, "fillColor": "#fdf8d4", "strokeColor": "#b91d3b", "labelLimit": 60}},
  "stroke": {"field": "band", "type": "nominal", "legend": null,
   "scale": {"domain": ["15% and over", "10%–14%", "5%–9%", "3%–4%", "2%", "1%", "<1%"], "range": ["#a11a26", "#c31a2e", "#e4232a", "#f5931f", "#fff100", "#70b543", "#12a04b"]}}
 }},
{"mark": {"type": "text", "fontSize": 11, "fontWeight": "bold", "baseline": "middle"},
 "encoding": {
  "x": {"field": "cx", "type": "quantitative"},
  "y": {"field": "cy", "type": "quantitative"},
  "text": {"field": "risk", "type": "nominal"},
  "color": {"condition": {"test": "datum.risk==0 || datum.risk>=10", "value": "#ffffff"}, "value": "#2b1a17"}
 }},
{"transform": [{"filter": "datum.sex=='Women' && datum.smoker=='Non-smoker' && datum.chol==4"}, {"calculate": "datum.gx-0.12", "as": "lx"}],
 "mark": {"type": "text", "fontSize": 11, "fontWeight": "bold", "align": "right", "baseline": "middle", "color": "#231f20"},
 "encoding": {"x": {"field": "lx", "type": "quantitative"}, "y": {"field": "cy", "type": "quantitative"}, "text": {"field": "sbp", "type": "nominal"}}},
{"transform": [{"filter": "datum.age==40 && datum.sbp==120"}, {"calculate": "datum.gy+1.45", "as": "ly"}],
 "mark": {"type": "text", "fontSize": 11, "fontWeight": "bold", "baseline": "middle", "color": "#231f20"},
 "encoding": {"x": {"field": "cx", "type": "quantitative"}, "y": {"field": "ly", "type": "quantitative"}, "text": {"field": "chol", "type": "nominal"}}},
{"transform": [{"filter": "datum.sex=='Women' && datum.smoker=='Smoker' && datum.chol==8 && datum.sbp==140"}, {"calculate": "datum.gx+2.45", "as": "ax"}],
 "mark": {"type": "text", "fontSize": 15, "fontWeight": "bold", "baseline": "middle", "color": "#d9242b"},
 "encoding": {"x": {"field": "ax", "type": "quantitative"}, "y": {"field": "cy", "type": "quantitative"}, "text": {"field": "age", "type": "nominal"}}},
{"transform": [{"filter": "datum.age==65 && datum.sbp==180 && datum.chol==4"}, {"calculate": "datum.gx+0.12", "as": "bx0"}, {"calculate": "datum.gx+5.08", "as": "bx1"}],
 "mark": {"type": "rect", "fill": "#fcf7d3", "stroke": "#b91d3b", "strokeWidth": 1.5},
 "encoding": {"x": {"field": "bx0", "type": "quantitative"}, "x2": {"field": "bx1"}, "y": {"datum": 5.79}, "y2": {"datum": 6.71}}},
{"transform": [{"filter": "datum.age==65 && datum.sbp==180 && datum.chol==4"}, {"calculate": "datum.gx+2.6", "as": "tx"}],
 "mark": {"type": "text", "fontSize": 13, "baseline": "middle", "color": "#231f20"},
 "encoding": {"x": {"field": "tx", "type": "quantitative"}, "y": {"datum": 6.26}, "text": {"field": "smoker", "type": "nominal"}}},
{"transform": [{"filter": "datum.age==65 && datum.sbp==180 && datum.chol==4 && datum.smoker=='Non-smoker'"}, {"calculate": "datum.gx+5.3-2.85", "as": "sx0"}, {"calculate": "datum.gx+5.3+2.85", "as": "sx1"}],
 "mark": {"type": "rect", "fill": "#fcf7d3", "stroke": "#b91d3b", "strokeWidth": 1.5},
 "encoding": {"x": {"field": "sx0", "type": "quantitative"}, "x2": {"field": "sx1"}, "y": {"datum": 4.1}, "y2": {"datum": 5.26}}},
{"transform": [{"filter": "datum.age==65 && datum.sbp==180 && datum.chol==4 && datum.smoker=='Non-smoker'"}, {"calculate": "datum.gx+5.3", "as": "sx"}, {"calculate": "upper(datum.sex)", "as": "sexU"}],
 "mark": {"type": "text", "fontSize": 17, "fontWeight": "bold", "baseline": "middle", "color": "#231f20"},
 "encoding": {"x": {"field": "sx", "type": "quantitative"}, "y": {"datum": 4.7}, "text": {"field": "sexU", "type": "nominal"}}},
{"data": {"values": [{}]},
 "mark": {"type": "text", "text": "SCORE", "fontSize": 15, "fontWeight": "bold", "baseline": "middle", "color": "#231f20"},
 "encoding": {"x": {"datum": 13.77}, "y": {"datum": 1.2}}},
{"data": {"values": [{}]},
 "mark": {"type": "rect", "fill": "#fcf7d3", "stroke": "#b91d3b", "strokeWidth": 1.5},
 "encoding": {"x": {"datum": 15.85}, "x2": {"datum": 18.65}, "y": {"datum": 1.93}, "y2": {"datum": 5.21}}},
{"data": {"values": [{}]},
 "mark": {"type": "text", "text": ["10-year risk of", "fatal CVD in", "populations at", "high CVD risk"], "lineHeight": 15.5, "fontSize": 6.5, "fontWeight": "bold", "baseline": "middle", "color": "#231f20"},
 "encoding": {"x": {"datum": 17.25}, "y": {"datum": 2.72}}},
{"data": {"values": [{}]},
 "mark": {"type": "text", "text": "Age", "fontSize": 15, "fontWeight": "bold", "baseline": "middle", "color": "#d9242b"},
 "encoding": {"x": {"datum": 15.37}, "y": {"datum": 6.66}}},
{"data": {"values": [{}]},
 "mark": {"type": "rect", "fill": "#fcf7d3", "stroke": "#b91d3b", "strokeWidth": 1.5},
 "encoding": {"x": {"datum": 11.36}, "x2": {"datum": 19.96}, "y": {"datum": 31.17}, "y2": {"datum": 32.33}}},
{"data": {"values": [{}]},
 "mark": {"type": "text", "text": "Cholesterol (mmol/L)", "fontSize": 12, "fontWeight": "bold", "baseline": "middle", "color": "#231f20"},
 "encoding": {"x": {"datum": 15.66}, "y": {"datum": 31.75}}},
{"data": {"values": [{}]},
 "mark": {"type": "rect", "fill": "#fcf7d3", "stroke": "#b91d3b", "strokeWidth": 1.5},
 "encoding": {"x": {"datum": 0.48}, "x2": {"datum": 1.26}, "y": {"datum": 21.8}, "y2": {"datum": 29.77}}},
{"data": {"values": [{}]},
 "mark": {"type": "text", "text": "Systolic blood pressure", "angle": 270, "fontSize": 12, "fontWeight": "bold", "baseline": "middle", "color": "#231f20"},
 "encoding": {"x": {"datum": 0.87}, "y": {"datum": 25.78}}},
{"data": {"values": [{}]},
 "mark": {"type": "text", "text": "© ESC 2016", "angle": 270, "fontSize": 7.5, "baseline": "middle", "color": "#6d6e71"},
 "encoding": {"x": {"datum": 27.84}, "y": {"datum": 28.66}}},
{"data": {"values": [{}]},
 "mark": {"type": "rule", "color": "#c8153c", "strokeWidth": 2.5},
 "encoding": {"x": {"datum": 22.8}, "x2": {"datum": 26.8}, "y": {"datum": 31.12}}},
{"data": {"values": [{"mgdl": 150}, {"mgdl": 200}, {"mgdl": 250}, {"mgdl": 300}]},
 "transform": [{"calculate": "23.54+(datum.mgdl-150)/50*1.03", "as": "mx"}],
 "mark": {"type": "rule", "color": "#c8153c", "strokeWidth": 2.5},
 "encoding": {"x": {"field": "mx", "type": "quantitative"}, "y": {"datum": 31.12}, "y2": {"datum": 31.6}}},
{"data": {"values": [{"mgdl": 150}, {"mgdl": 200}, {"mgdl": 250}, {"mgdl": 300}]},
 "transform": [{"calculate": "23.54+(datum.mgdl-150)/50*1.03", "as": "mx"}],
 "mark": {"type": "text", "fontSize": 10, "baseline": "middle", "color": "#231f20"},
 "encoding": {"x": {"field": "mx", "type": "quantitative"}, "y": {"datum": 32.57}, "text": {"field": "mgdl", "type": "nominal"}}},
{"data": {"values": [{}]},
 "mark": {"type": "text", "text": "mg/dL", "fontSize": 10, "baseline": "middle", "color": "#231f20"},
 "encoding": {"x": {"datum": 25.04}, "y": {"datum": 33.53}}},
{"data": {"values": [{}]},
 "mark": {"type": "text", "text": "Figure 1", "fontSize": 9.5, "fontWeight": "bold", "align": "left", "baseline": "middle", "color": "#d2232a"},
 "encoding": {"x": {"datum": -0.82}, "y": {"datum": 35.65}}},
{"data": {"values": [{}]},
 "mark": {"type": "text", "text": "SCORE chart: 10-year risk of fatal cardiovascular disease in populations of countries at high cardiovascular risk based on the following risk", "font": "Roboto", "fontSize": 9.2, "align": "left", "baseline": "middle", "color": "#231f20"},
 "encoding": {"x": {"datum": 1.98}, "y": {"datum": 35.65}}},
{"data": {"values": [{}]},
 "mark": {"type": "text", "text": "factors: age, sex, smoking, systolic blood pressure, total cholesterol. CVD = cardiovascular disease; SCORE = Systematic Coronary Risk Estimation.", "font": "Roboto", "fontSize": 9.6, "align": "left", "baseline": "middle", "color": "#231f20"},
 "encoding": {"x": {"datum": -0.82}, "y": {"datum": 36.38}}}
]
}
